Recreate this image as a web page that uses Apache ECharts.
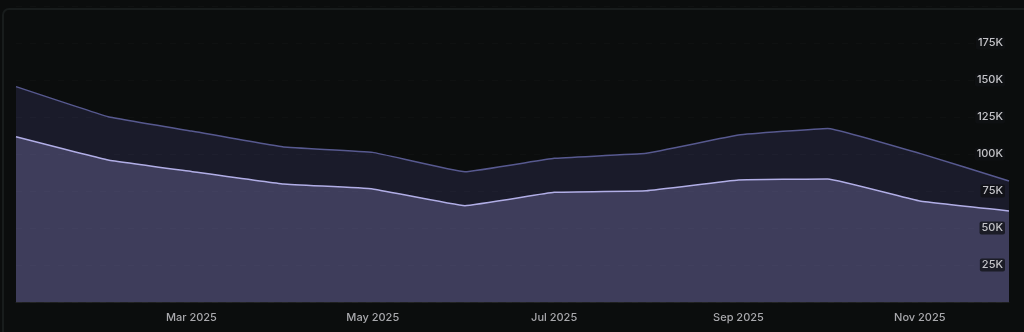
<!DOCTYPE html>
<html>
<head>
<meta charset="utf-8">
<script src="https://cdn.jsdelivr.net/npm/echarts@6/dist/echarts.min.js"></script>
<style>
  html, body { margin: 0; padding: 0; background: #0b0d0d; }
  #chart { width: 1024px; height: 332px; }
</style>
</head>
<body>
<div id="chart"></div>
<script>
// Monthly totals for 2025 (first of each month)
const months = ['2025-01-01','2025-02-01','2025-03-01','2025-04-01','2025-05-01','2025-06-01',
                '2025-07-01','2025-08-01','2025-09-01','2025-10-01','2025-11-01','2025-12-01'];
const totalValues = [145500, 125200, 115500, 104700, 101100, 88000, 97100, 100500, 112800, 117300, 100400, 81800];
const baseValues  = [111700, 96000, 88200, 79700, 76400, 65100, 74100, 75200, 82400, 83100, 68200, 61500];
const xTickDates = ['2025-03-01','2025-05-01','2025-07-01','2025-09-01','2025-11-01'];
const monthNames = ['Jan','Feb','Mar','Apr','May','Jun','Jul','Aug','Sep','Oct','Nov','Dec'];
const yTicks = [0, 25000, 50000, 75000, 100000, 125000, 150000, 175000, 200000];

const toTs = s => { const [y, m, d] = s.split('-').map(Number); return Date.UTC(y, m - 1, d); };

const chart = echarts.init(document.getElementById('chart'), null, { renderer: 'canvas' });

chart.setOption({
  backgroundColor: '#0b0d0d',
  animation: false,
  graphic: [{
    type: 'rect',
    shape: { x: 3, y: 9, width: 1040, height: 340, r: 6 },
    style: { fill: 'none', stroke: '#181c1c', lineWidth: 2 },
    z: -1
  }],
  grid: { left: 16, right: 15, top: 6, bottom: 30 },
  xAxis: {
    // time values on a linear scale so month-start ticks can be placed exactly
    type: 'value',
    min: toTs(months[0]),
    max: toTs(months[months.length - 1]),
    axisLine: { show: true, lineStyle: { color: 'rgba(255,255,255,0.08)' } },
    axisTick: { show: false },
    splitLine: { show: false },
    axisLabel: {
      customValues: xTickDates.map(toTs),
      color: '#a9a9ad',
      fontFamily: 'Inter',
      fontSize: 11,
      fontWeight: 500,
      margin: 10,
      formatter: v => { const d = new Date(v); return monthNames[d.getUTCMonth()] + ' ' + d.getUTCFullYear(); }
    }
  },
  yAxis: {
    type: 'value',
    position: 'right',
    min: yTicks[0],
    max: yTicks[yTicks.length - 1],
    interval: yTicks[1] - yTicks[0],
    axisLine: { show: false },
    axisTick: { show: false },
    splitLine: { show: true, lineStyle: { color: 'rgba(255,255,255,0.02)', type: [6, 8] } },
    axisLabel: {
      inside: true,
      showMinLabel: false,
      showMaxLabel: false,
      margin: 4,
      color: '#c4c4c8',
      fontFamily: 'Inter',
      fontSize: 11,
      fontWeight: 500,
      backgroundColor: 'rgba(16,17,20,0.75)',
      padding: [1, 2],
      borderRadius: 2,
      formatter: v => (v / 1000) + 'K'
    },
    z: 10
  },
  series: [
    {
      name: 'Total',
      type: 'line',
      data: months.map((m, i) => [toTs(m), totalValues[i]]),
      smooth: 0.08,
      symbol: 'none',
      lineStyle: { color: '#57598f', width: 1.5 },
      areaStyle: { color: '#1a1b2a', opacity: 1 },
      z: 1
    },
    {
      name: 'Base',
      type: 'line',
      data: months.map((m, i) => [toTs(m), baseValues[i]]),
      smooth: 0.08,
      symbol: 'none',
      lineStyle: { color: '#b1aee6', width: 1.5 },
      areaStyle: { color: '#3e3d5b', opacity: 1 },
      z: 2
    }
  ]
});
</script>
</body>
</html>
